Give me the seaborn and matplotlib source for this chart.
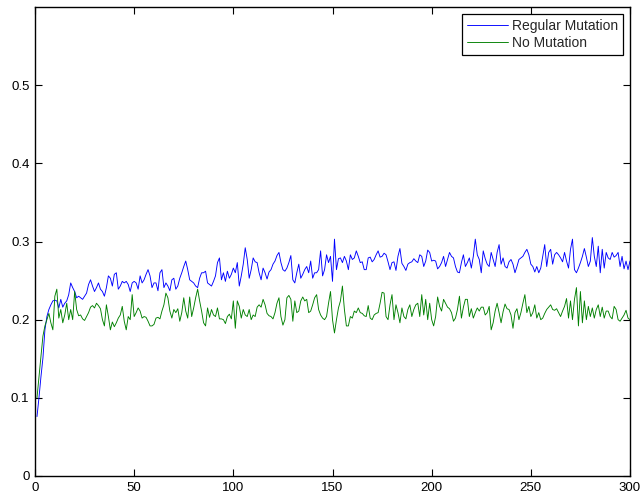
import numpy as np
import pandas as pd
import matplotlib
matplotlib.use("Agg")
import matplotlib.pyplot as plt
import seaborn as sns

# Average fitness per generation for the two runs
regular_mutation = [
    0.076, 0.100, 0.127, 0.151, 0.187, 0.204, 0.213, 0.219, 0.224, 0.225,
    0.224, 0.215, 0.226, 0.216, 0.221, 0.224, 0.232, 0.247, 0.241, 0.236,
    0.228, 0.230, 0.228, 0.226, 0.230, 0.234, 0.245, 0.251, 0.243, 0.236,
    0.241, 0.247, 0.239, 0.236, 0.230, 0.241, 0.256, 0.253, 0.243, 0.258,
    0.260, 0.239, 0.243, 0.249, 0.247, 0.249, 0.245, 0.236, 0.247, 0.249,
    0.247, 0.239, 0.256, 0.247, 0.251, 0.258, 0.264, 0.256, 0.241, 0.247,
    0.247, 0.237, 0.260, 0.264, 0.241, 0.247, 0.243, 0.237, 0.251, 0.253,
    0.239, 0.243, 0.253, 0.260, 0.268, 0.275, 0.264, 0.251, 0.249, 0.247,
    0.243, 0.241, 0.253, 0.260, 0.260, 0.262, 0.247, 0.245, 0.243, 0.249,
    0.256, 0.273, 0.279, 0.251, 0.260, 0.249, 0.262, 0.253, 0.258, 0.266,
    0.260, 0.273, 0.243, 0.256, 0.271, 0.292, 0.277, 0.253, 0.264, 0.279,
    0.274, 0.273, 0.260, 0.251, 0.266, 0.260, 0.252, 0.261, 0.264, 0.271,
    0.275, 0.282, 0.286, 0.273, 0.264, 0.262, 0.266, 0.273, 0.282, 0.251,
    0.247, 0.260, 0.271, 0.253, 0.258, 0.264, 0.268, 0.260, 0.275, 0.253,
    0.260, 0.260, 0.264, 0.288, 0.256, 0.264, 0.283, 0.273, 0.281, 0.249,
    0.303, 0.264, 0.278, 0.279, 0.273, 0.281, 0.275, 0.264, 0.283, 0.277,
    0.279, 0.288, 0.281, 0.273, 0.274, 0.264, 0.264, 0.279, 0.280, 0.274,
    0.277, 0.283, 0.288, 0.280, 0.281, 0.285, 0.283, 0.274, 0.264, 0.273,
    0.274, 0.263, 0.281, 0.291, 0.272, 0.268, 0.263, 0.271, 0.273, 0.274,
    0.278, 0.275, 0.273, 0.283, 0.281, 0.268, 0.275, 0.289, 0.286, 0.275,
    0.276, 0.275, 0.265, 0.268, 0.273, 0.281, 0.268, 0.277, 0.286, 0.281,
    0.279, 0.268, 0.261, 0.260, 0.273, 0.283, 0.268, 0.273, 0.279, 0.266,
    0.281, 0.303, 0.283, 0.277, 0.260, 0.288, 0.278, 0.271, 0.268, 0.286,
    0.277, 0.268, 0.286, 0.296, 0.271, 0.279, 0.268, 0.266, 0.274, 0.277,
    0.271, 0.260, 0.268, 0.277, 0.279, 0.281, 0.286, 0.290, 0.283, 0.271,
    0.268, 0.261, 0.268, 0.260, 0.266, 0.281, 0.296, 0.268, 0.286, 0.290,
    0.271, 0.283, 0.286, 0.283, 0.279, 0.274, 0.286, 0.275, 0.266, 0.290,
    0.303, 0.264, 0.260, 0.266, 0.273, 0.281, 0.291, 0.280, 0.268, 0.275,
    0.305, 0.281, 0.268, 0.294, 0.260, 0.290, 0.266, 0.286, 0.279, 0.277,
    0.286, 0.280, 0.282, 0.286, 0.268, 0.281, 0.265, 0.275, 0.264, 0.275,
]

no_mutation = [
    0.100, 0.127, 0.153, 0.179, 0.192, 0.200, 0.208, 0.196, 0.187, 0.230,
    0.239, 0.202, 0.213, 0.196, 0.206, 0.221, 0.200, 0.213, 0.200, 0.236,
    0.213, 0.205, 0.206, 0.201, 0.199, 0.204, 0.209, 0.216, 0.218, 0.215,
    0.221, 0.218, 0.214, 0.200, 0.192, 0.219, 0.204, 0.187, 0.197, 0.191,
    0.196, 0.202, 0.206, 0.217, 0.198, 0.187, 0.204, 0.200, 0.232, 0.204,
    0.209, 0.215, 0.211, 0.202, 0.204, 0.203, 0.198, 0.192, 0.192, 0.194,
    0.202, 0.203, 0.201, 0.211, 0.219, 0.234, 0.228, 0.211, 0.202, 0.213,
    0.209, 0.214, 0.198, 0.209, 0.228, 0.211, 0.202, 0.229, 0.204, 0.215,
    0.228, 0.239, 0.224, 0.211, 0.196, 0.192, 0.215, 0.203, 0.213, 0.206,
    0.204, 0.215, 0.201, 0.201, 0.200, 0.195, 0.204, 0.207, 0.201, 0.224,
    0.189, 0.224, 0.217, 0.202, 0.213, 0.206, 0.204, 0.213, 0.200, 0.206,
    0.204, 0.216, 0.219, 0.216, 0.226, 0.219, 0.208, 0.205, 0.204, 0.201,
    0.209, 0.221, 0.228, 0.204, 0.193, 0.200, 0.228, 0.231, 0.226, 0.198,
    0.224, 0.209, 0.211, 0.224, 0.229, 0.224, 0.226, 0.209, 0.211, 0.219,
    0.228, 0.232, 0.213, 0.206, 0.202, 0.200, 0.204, 0.221, 0.236, 0.200,
    0.183, 0.200, 0.215, 0.224, 0.243, 0.213, 0.192, 0.192, 0.204, 0.202,
    0.211, 0.209, 0.215, 0.209, 0.208, 0.205, 0.204, 0.218, 0.202, 0.200,
    0.206, 0.208, 0.209, 0.221, 0.235, 0.234, 0.204, 0.200, 0.219, 0.232,
    0.200, 0.219, 0.209, 0.196, 0.215, 0.204, 0.201, 0.213, 0.219, 0.204,
    0.213, 0.219, 0.221, 0.204, 0.232, 0.206, 0.226, 0.200, 0.221, 0.200,
    0.192, 0.204, 0.229, 0.217, 0.211, 0.226, 0.221, 0.216, 0.214, 0.209,
    0.198, 0.202, 0.213, 0.230, 0.202, 0.216, 0.226, 0.226, 0.204, 0.214,
    0.202, 0.209, 0.215, 0.211, 0.216, 0.216, 0.206, 0.209, 0.217, 0.187,
    0.196, 0.211, 0.221, 0.209, 0.196, 0.210, 0.220, 0.214, 0.213, 0.206,
    0.189, 0.209, 0.214, 0.200, 0.209, 0.221, 0.232, 0.209, 0.217, 0.204,
    0.209, 0.219, 0.202, 0.209, 0.200, 0.202, 0.208, 0.213, 0.216, 0.219,
    0.213, 0.212, 0.214, 0.209, 0.204, 0.211, 0.217, 0.227, 0.202, 0.224,
    0.200, 0.226, 0.241, 0.192, 0.236, 0.196, 0.224, 0.200, 0.217, 0.204,
    0.215, 0.202, 0.213, 0.219, 0.204, 0.216, 0.202, 0.211, 0.211, 0.204,
    0.201, 0.217, 0.213, 0.200, 0.198, 0.202, 0.206, 0.212, 0.202, 0.200,
]

series_names = ["Regular Mutation", "No Mutation"]
x_ticks = [0, 50, 100, 150, 200, 250, 300]
y_ticks = [0, 0.1, 0.2, 0.3, 0.4, 0.5]
y_tick_labels = ["0", "0.1", "0.2", "0.3", "0.4", "0.5"]

generations = np.arange(1, len(regular_mutation) + 1)
df = pd.concat([
    pd.DataFrame({"generation": generations, "fitness": regular_mutation, "run": series_names[0]}),
    pd.DataFrame({"generation": generations, "fitness": no_mutation, "run": series_names[1]}),
])

sns.set_style("white")
plt.rcParams["font.family"] = ["Liberation Sans", "DejaVu Sans"]

fig = plt.figure(figsize=(6.4, 4.97), dpi=100)
ax = fig.add_axes([35 / 640, 21 / 497, 595 / 640, 469 / 497])

sns.lineplot(data=df, x="generation", y="fitness", hue="run",
             palette={series_names[0]: "#0000ff", series_names[1]: "#008000"},
             linewidth=0.65, ax=ax, legend=True)

ax.set_xlim(0, 300)
ax.set_ylim(0, 0.6)
ax.set_xticks(x_ticks)
ax.set_xticklabels([str(t) for t in x_ticks])
ax.set_yticks(y_ticks)
ax.set_yticklabels(y_tick_labels)
ax.set_xlabel("")
ax.set_ylabel("")

for s in ax.spines.values():
    s.set_color("black")
    s.set_linewidth(1.0)
    s.set_visible(True)

ax.tick_params(direction="in", length=5, width=0.8, colors="black",
               labelsize=9.5, top=True, right=True, bottom=True, left=True,
               pad=4)

leg = ax.legend(loc="upper right", bbox_to_anchor=(0.988, 0.985),
                borderaxespad=0, frameon=True, fancybox=False, framealpha=1,
                edgecolor="black", fontsize=10, handlelength=3.0,
                handletextpad=0.25, borderpad=0.35, labelspacing=0.2)
leg.get_frame().set_linewidth(0.9)
for line in leg.get_lines():
    line.set_linewidth(0.65)

fig.savefig("out.png", dpi=100, facecolor="white")
